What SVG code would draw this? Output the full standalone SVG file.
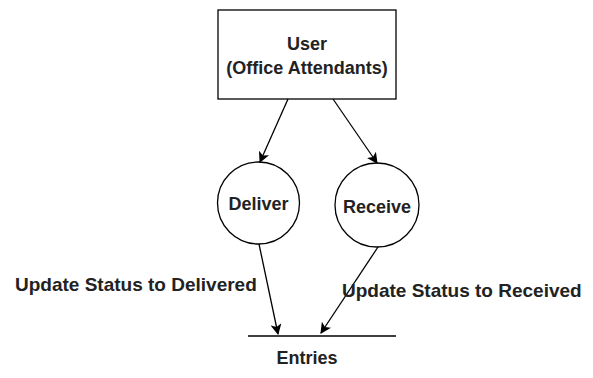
<svg xmlns="http://www.w3.org/2000/svg" width="593" height="378" viewBox="0 0 593 378">
  <style>
    .shape { fill: #ffffff; stroke: #000000; stroke-width: 1.3; }
    .edge { fill: none; stroke: #000000; stroke-width: 1.3; }
    .label { font-family: "Liberation Sans", Arial, sans-serif; font-weight: bold; font-size: 18px; fill: #222222; }
    .edge-label { font-size: 19px; }
  </style>
  <defs>
    <marker id="arrow" viewBox="0 0 10 10" refX="9" refY="5" markerWidth="11" markerHeight="11" markerUnits="userSpaceOnUse" orient="auto">
      <path d="M0,0 L10,5 L0,10 L2.5,5 Z" fill="#000000"/>
    </marker>
  </defs>

  <g id="user">
    <rect class="shape" x="218" y="10" width="178" height="89"/>
    <text class="label" x="307" y="50" text-anchor="middle">User</text>
    <text class="label" x="307" y="74" text-anchor="middle">(Office Attendants)</text>
  </g>

  <g id="deliver">
    <circle class="shape" cx="258.5" cy="203" r="41"/>
    <text class="label" x="258.5" y="210" text-anchor="middle">Deliver</text>
  </g>

  <g id="receive">
    <circle class="shape" cx="377" cy="205" r="42"/>
    <text class="label" x="377" y="213" text-anchor="middle">Receive</text>
  </g>

  <g id="entries">
    <line class="edge" x1="248" y1="336" x2="396" y2="336"/>
    <text class="label" x="307" y="364" text-anchor="middle">Entries</text>
  </g>

  <g id="connectors">
    <line class="edge" x1="288" y1="99" x2="260" y2="162" marker-end="url(#arrow)"/>
    <line class="edge" x1="333" y1="99" x2="377" y2="163" marker-end="url(#arrow)"/>
    <line class="edge" x1="259" y1="244" x2="278" y2="334" marker-end="url(#arrow)"/>
    <line class="edge" x1="378" y1="247" x2="321" y2="333" marker-end="url(#arrow)"/>
    <text class="label edge-label" x="15" y="291">Update Status to Delivered</text>
    <text class="label edge-label" x="342" y="297">Update Status to Received</text>
  </g>
</svg>
